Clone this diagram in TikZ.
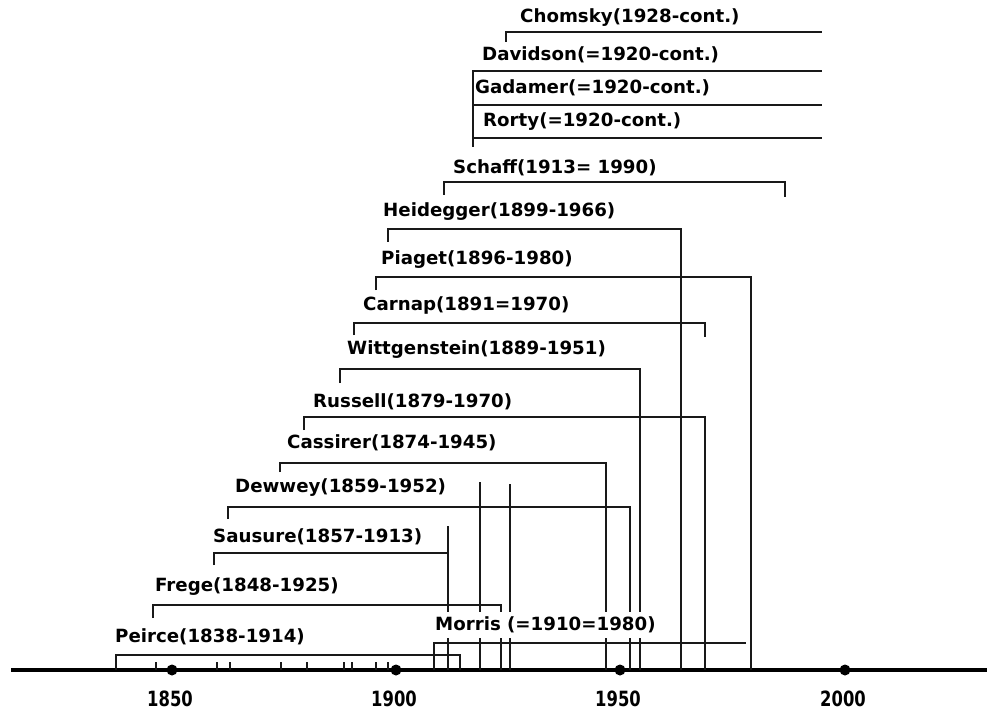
\documentclass[tikz,border=0pt]{standalone}
\usepackage{fontspec}
\setmainfont{DejaVu Sans}

\begin{document}
\begin{tikzpicture}[x=1pt, y=-1pt,
    lab/.style={anchor=west, inner sep=0pt, font=\fontsize{18.2}{20}\selectfont\bfseries},
    yearlab/.style={inner sep=0pt, font=\fontsize{21}{23}\selectfont\bfseries},
    brk/.style={line width=1.6pt, black!90},
    timeaxis/.style={line width=3.6pt}]
    \useasboundingbox (0,0) rectangle (987,711);

    % time axis
    \draw[timeaxis] (11,670) -- (987,670);
    \foreach \x/\yr in {172/1850, 396/1900, 620/1950, 845/2000} {
        \fill (\x,670) circle (5.5pt);
        \node[yearlab] (y\yr) at (\x-2,699) {\scalebox{0.78}[1]{\yr}};
    }
    \foreach \x in {156,217,230,281,307,344,352,376,388}
        \draw[brk] (\x,662) -- (\x,670);

    % life spans
    \begin{scope}
        \draw[brk] (116,670) -- (116,655) -- (460,655) -- (460,670);
        \draw[brk] (153,618) -- (153,605) -- (501,605) -- (501,670);
        \draw[brk] (214,565) -- (214,553) -- (448,553);
        \draw[brk] (448,526) -- (448,670);
        \draw[brk] (228,519) -- (228,507) -- (630,507) -- (630,670);
        \draw[brk] (280,472) -- (280,463) -- (606,463) -- (606,670);
        \draw[brk] (304,430) -- (304,417) -- (705,417) -- (705,670);
        \draw[brk] (340,383) -- (340,369) -- (640,369) -- (640,670);
        \draw[brk] (354,335) -- (354,323) -- (705,323) -- (705,337);
        \draw[brk] (376,290) -- (376,277) -- (751,277) -- (751,670);
        \draw[brk] (388,242) -- (388,229) -- (681,229) -- (681,670);
        \draw[brk] (444,195) -- (444,182) -- (785,182) -- (785,197);
        \draw[brk] (480,482) -- (480,670);
        \draw[brk] (510,484) -- (510,670);
        \draw[brk] (434,670) -- (434,643) -- (746,643);
    \end{scope}

    % still living
    \begin{scope}
        \draw[brk] (506,42) -- (506,32) -- (822,32);
        \draw[brk] (473,147) -- (473,71) -- (822,71);
        \draw[brk] (473,105) -- (822,105);
        \draw[brk] (473,138) -- (822,138);
    \end{scope}

    % names
    \node[lab] (chomsky) at (520,18) {Chomsky(1928-cont.)};
    \node[lab] (davidson) at (482,55) {Davidson(=1920-cont.)};
    \node[lab] (gadamer) at (475,88) {Gadamer(=1920-cont.)};
    \node[lab] (rorty) at (483,122) {Rorty(=1920-cont.)};
    \node[lab] (schaff) at (453,168) {Schaff(1913= 1990)};
    \node[lab] (heidegger) at (383,212) {Heidegger(1899-1966)};
    \node[lab] (piaget) at (381,260) {Piaget(1896-1980)};
    \node[lab] (carnap) at (363,305) {Carnap(1891=1970)};
    \node[lab] (wittgenstein) at (347,350) {Wittgenstein(1889-1951)};
    \node[lab] (russell) at (313,402) {Russell(1879-1970)};
    \node[lab] (cassirer) at (287,443) {Cassirer(1874-1945)};
    \node[lab] (dewwey) at (235,488) {Dewwey(1859-1952)};
    \node[lab] (sausure) at (213,537) {Sausure(1857-1913)};
    \node[lab] (frege) at (155,587) {Frege(1848-1925)};
    \node[lab] (peirce) at (115,637) {Peirce(1838-1914)};
    \node[lab, fill=white, inner xsep=2pt, inner ysep=5pt] (morris) at (433,625) {Morris (=1910=1980)};

\end{tikzpicture}
\end{document}
